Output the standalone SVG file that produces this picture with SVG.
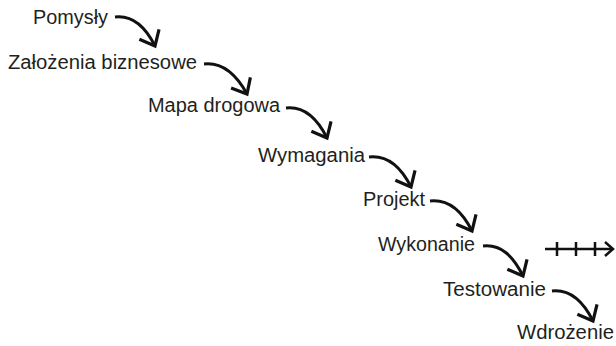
<svg xmlns="http://www.w3.org/2000/svg" width="616" height="346" viewBox="0 0 616 346">
<style>
.t{font-family:"Liberation Sans",Arial,sans-serif;font-size:20px;fill:#231f20}
.a{fill:none;stroke:#111;stroke-width:3;stroke-linecap:butt}
</style>
<defs>
<marker id="h" markerUnits="userSpaceOnUse" markerWidth="40" markerHeight="40" refX="0" refY="0" viewBox="-20 -20 40 40" orient="auto" overflow="visible">
<path d="M-13,-11 L0,0 L-13,11" fill="none" stroke="#111" stroke-width="3.2"/>
</marker>
</defs>
<rect width="616" height="346" fill="#fff"/>
<g id="n1"><text class="t" x="33" y="24" textLength="75" lengthAdjust="spacingAndGlyphs">Pomysły</text></g>
<g id="n2"><text class="t" x="8" y="69" textLength="189" lengthAdjust="spacingAndGlyphs">Założenia biznesowe</text></g>
<g id="n3"><text class="t" x="148" y="112" textLength="132" lengthAdjust="spacingAndGlyphs">Mapa drogowa</text></g>
<g id="n4"><text class="t" x="258" y="162" textLength="107" lengthAdjust="spacingAndGlyphs">Wymagania</text></g>
<g id="n5"><text class="t" x="363" y="206" textLength="62" lengthAdjust="spacingAndGlyphs">Projekt</text></g>
<g id="n6"><text class="t" x="378" y="251" textLength="97" lengthAdjust="spacingAndGlyphs">Wykonanie</text></g>
<g id="n7"><text class="t" x="443" y="296" textLength="103" lengthAdjust="spacingAndGlyphs">Testowanie</text></g>
<g id="n8"><text class="t" x="517" y="339" textLength="97" lengthAdjust="spacingAndGlyphs">Wdrożenie</text></g>
<g id="connectors">
<path class="a" marker-end="url(#h)" d="M115,17 C132,15 145,26 155,46"/>
<path class="a" marker-end="url(#h)" d="M204,64 C222,62 236,74 247,94"/>
<path class="a" marker-end="url(#h)" d="M286,108 C304,106 317,118 327,138"/>
<path class="a" marker-end="url(#h)" d="M369,157 C387,155 401,167 411,187"/>
<path class="a" marker-end="url(#h)" d="M430,201 C448,199 462,211 472,231"/>
<path class="a" marker-end="url(#h)" d="M483,246 C501,244 513,256 523,276"/>
<path class="a" marker-end="url(#h)" d="M552,291 C570,289 583,301 593,321"/>
<g id="timeline" class="a" style="stroke-width:2.5">
<path d="M545,249 H613"/>
<path d="M557,242 V256 M576,242 V256 M595,242 V256"/>
<path d="M605,242 L613,249 L605,256"/>
</g>
</g>
</svg>
